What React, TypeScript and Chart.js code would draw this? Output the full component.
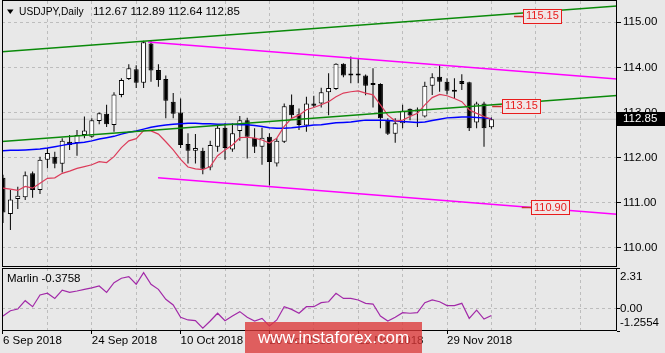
import React, { useEffect, useRef } from "react";
import { Chart, registerables } from "chart.js";

Chart.register(...registerables);

// ---------- data ----------
const symbolTitle = "USDJPY,Daily";
const ohlcTitle = "112.67 112.89 112.64 112.85";
const indicatorName = "Marlin";
const indicatorValue = "-0.3758";

const dateLabels = ["6 Sep 2018", "24 Sep 2018", "10 Oct 2018", "26 Oct 2018", "13 Nov 2018", "29 Nov 2018"];
const dateLabelBars = [0, 12, 24, 36, 48, 60];
const priceTicks = [110, 111, 112, 113, 114, 115];
const marlinTicks = [2.31, 0, -1.2554];

const opens = [
  111.55, 110.75, 111.08, 111.12, 111.65, 111.28, 111.95, 112.02, 111.86, 112.35,
  112.32, 112.5, 112.46, 112.81, 112.97, 112.72, 113.39, 113.74, 113.96, 113.66,
  114.53, 113.94, 113.74, 113.24, 113.0, 112.3, 112.15, 112.15, 111.78, 112.24,
  112.66, 112.18, 112.59, 112.83, 112.44, 112.24, 112.46, 111.87, 112.35, 113.17,
  112.96, 112.71, 113.2, 113.2, 113.45, 113.52, 114.08, 113.85, 113.83, 113.82,
  113.65, 113.63, 112.82, 112.53, 112.76, 113.08, 113.05, 112.91, 113.59, 113.79,
  113.68, 113.5, 113.7, 113.67, 112.78, 113.2, 112.67,
];
const highs = [
  111.62, 111.28, 111.35, 111.69, 111.69, 112.02, 112.21, 112.13, 112.43, 112.5,
  112.61, 112.91, 112.87, 113.0, 113.17, 113.45, 113.76, 114.07, 114.05, 114.59,
  114.59, 114.07, 113.82, 113.43, 113.31, 112.54, 112.52, 112.22, 112.37, 112.74,
  112.76, 112.76, 112.92, 112.88, 112.65, 112.66, 112.54, 112.43, 113.2, 113.4,
  113.09, 113.35, 113.37, 113.55, 113.87, 114.09, 114.09, 114.24, 114.2, 113.84,
  113.98, 113.65, 112.87, 112.87, 113.17, 113.09, 113.11, 113.68, 113.87, 114.05,
  113.76, 113.76, 113.85, 113.68, 113.24, 113.24, 112.89,
];
const lows = [
  110.55, 110.39, 110.86, 111.06, 111.11, 111.19, 111.76, 111.76, 111.67, 112.17,
  112.04, 112.43, 112.44, 112.74, 112.68, 112.57, 113.34, 113.72, 113.54, 113.54,
  113.68, 113.57, 112.87, 112.87, 112.21, 111.87, 111.87, 111.63, 111.72, 112.13,
  111.95, 112.13, 112.37, 111.98, 112.1, 111.84, 111.38, 111.8, 112.32, 112.87,
  112.61, 112.57, 113.11, 113.11, 112.94, 113.5, 113.78, 113.65, 113.65, 113.38,
  113.11, 112.65, 112.5, 112.33, 112.65, 112.83, 112.68, 112.89, 113.39, 113.46,
  113.4, 113.31, 113.5, 112.59, 112.65, 112.24, 112.64,
];
const closes = [
  110.78, 111.07, 111.15, 111.61, 111.28, 111.95, 112.1, 111.86, 112.37, 112.28,
  112.5, 112.6, 112.83, 112.98, 112.74, 113.4, 113.72, 113.98, 113.66, 114.56,
  113.93, 113.72, 113.26, 112.97, 112.28, 112.15, 112.21, 111.75, 112.28, 112.66,
  112.21, 112.54, 112.83, 112.46, 112.24, 112.44, 111.9, 112.37, 113.14, 112.94,
  112.72, 113.2, 113.15, 113.45, 113.54, 114.08, 113.82, 113.82, 113.82, 113.59,
  113.61, 112.87, 112.53, 112.76, 113.04, 112.93, 113.02, 113.59, 113.78, 113.68,
  113.48, 113.46, 113.63, 112.65, 113.2, 112.65, 112.85,
];
const maRed = [
  111.32, 111.3, 111.27, 111.36, 111.32, 111.43, 111.54, 111.55, 111.65, 111.7,
  111.76, 111.8, 111.84, 111.91, 111.89, 112.02, 112.22, 112.37, 112.42, 112.6,
  112.59, 112.52, 112.35, 112.17, 111.96, 111.79, 111.75, 111.73, 111.8, 112.04,
  112.17, 112.28, 112.44, 112.45, 112.43, 112.39, 112.32, 112.43, 112.69, 112.87,
  112.94, 113.06, 113.11, 113.17, 113.24, 113.35, 113.43, 113.46, 113.48, 113.43,
  113.39, 113.17, 112.94, 112.81, 112.83, 112.91, 112.98, 113.17, 113.33, 113.4,
  113.37, 113.31, 113.24, 113.06, 112.98, 112.91, 112.85,
];
const maBlue = [
  112.15, 112.16, 112.16, 112.17, 112.18, 112.19, 112.21, 112.24, 112.27, 112.3,
  112.32, 112.34, 112.37, 112.41, 112.44, 112.47, 112.52, 112.56, 112.59, 112.63,
  112.67, 112.7, 112.72, 112.74, 112.75, 112.76, 112.76, 112.75, 112.75, 112.74,
  112.74, 112.74, 112.73, 112.73, 112.71, 112.69, 112.66, 112.65, 112.65, 112.66,
  112.68, 112.7, 112.72, 112.73, 112.75, 112.77, 112.78, 112.79, 112.81, 112.83,
  112.83, 112.83, 112.82, 112.81, 112.8, 112.79, 112.78, 112.79, 112.82, 112.85,
  112.88, 112.89, 112.9, 112.9, 112.89, 112.88, 112.86,
];
const marlin = [
  -0.41, -0.11, -0.01, 0.46, 0.12, 0.78, 0.88, 0.59, 1.06, 0.93,
  1.01, 1.1, 1.19, 1.29, 0.93, 1.48, 1.73, 1.82, 1.39, 2.05,
  1.39, 1.1, 0.54, 0.22, -0.48, -0.63, -0.67, -1.1, -0.69, -0.25,
  -0.67, -0.41, -0.16, -0.48, -0.69, -0.54, -0.97, -0.63, 0.12, -0.03,
  -0.25, 0.12, 0.12, 0.35, 0.4, 0.88, 0.59, 0.59, 0.5, 0.31,
  0.27, -0.41, -0.69, -0.48, -0.22, -0.25, -0.22, 0.35, 0.5, 0.4,
  0.18, 0.18, 0.31, -0.54, -0.07, -0.58, -0.3758,
];

// trend lines: [bar index, price] end points
const greenUpperBars = [-0.135, 82.97];
const greenUpperPrices = [114.348, 115.362];
const greenLowerBars = [-0.135, 82.97];
const greenLowerPrices = [112.356, 113.376];
const magentaUpperBars = [19.6, 82.97];
const magentaUpperPrices = [114.563, 113.742];
const magentaLowerBars = [20.95, 82.97];
const magentaLowerPrices = [111.553, 110.741];

const priceLabelValues = [115.15, 113.15, 110.9];
const priceLabelBars = [69.05, 66.1, 70.1];
const lastPrice = 112.85;

// ---------- style ----------
const FONT = "'Liberation Sans', Arial, sans-serif";
const BG = "#e8e8e8";
const GRID = "#bdbdbd";
const RED = "#e81c1c";
const X_MIN = -0.135;
const X_MAX = 82.97;
const Y_MIN = 109.572;
const Y_MAX = 115.4725;
const GRID_STEP = 6;

const pts = (xs: number[], ys: number[]) => xs.map((x, i) => ({ x, y: ys[i] }));

const noPad = (s: any) => {
  s.paddingTop = 0;
  s.paddingBottom = 0;
  s.paddingLeft = 0;
  s.paddingRight = 0;
};

export default function App() {
  const mainRef = useRef<HTMLCanvasElement>(null);
  const subRef = useRef<HTMLCanvasElement>(null);

  useEffect(() => {
    const bars = opens.map((_, i) => i);
    const gridTicks = () => {
      const t: { value: number }[] = [];
      for (let v = 0; v <= X_MAX; v += GRID_STEP) t.push({ value: v });
      return t;
    };

    const lineDs = (label: string, data: any[], color: string, width: number, order: number) => ({
      type: "line" as const,
      label,
      data,
      borderColor: color,
      borderWidth: width,
      pointRadius: 0,
      tension: 0,
      fill: false,
      order,
      clip: 0,
    });

    const mainOverlay = {
      id: "mainOverlay",
      afterDraw(chart: any) {
        const { ctx, chartArea: a, scales } = chart;
        const xs = scales.x;
        const ys = scales.y;
        ctx.save();
        // frame
        ctx.strokeStyle = "#000";
        ctx.lineWidth = 1;
        ctx.strokeRect(a.left + 0.5, a.top - 0.5, a.right - a.left - 1, a.bottom - a.top);
        // title
        ctx.fillStyle = "#000";
        ctx.beginPath();
        ctx.moveTo(7, 9.5);
        ctx.lineTo(13.5, 9.5);
        ctx.lineTo(10.25, 14);
        ctx.closePath();
        ctx.fill();
        ctx.font = `11.5px ${FONT}`;
        ctx.textBaseline = "middle";
        ctx.textAlign = "left";
        ctx.save();
        ctx.translate(19, 12);
        ctx.scale(0.89, 1);
        ctx.fillText(symbolTitle, 0, 0);
        ctx.restore();
        ctx.fillText(ohlcTitle, 93, 12);
        // price labels on trend lines
        priceLabelValues.forEach((v, k) => {
          const x0 = xs.getPixelForValue(priceLabelBars[k]);
          const y = ys.getPixelForValue(v);
          const yy = Math.round(y) + 0.5;
          ctx.strokeStyle = "#c83030";
          ctx.lineWidth = 1.5;
          ctx.beginPath();
          ctx.moveTo(x0, yy);
          ctx.lineTo(x0 + 9.5, yy);
          ctx.stroke();
          const txt = v.toFixed(2);
          ctx.font = `11px ${FONT}`;
          const w = Math.round(ctx.measureText(txt).width + 5);
          const bx = Math.round(x0 + 9.5) + 0.5;
          const by = Math.round(y - 7) + 0.5;
          ctx.fillStyle = "#f1e6e6";
          ctx.fillRect(bx, by, w, 14);
          ctx.strokeStyle = RED;
          ctx.lineWidth = 1;
          ctx.strokeRect(bx, by, w, 14);
          ctx.fillStyle = RED;
          ctx.fillText(txt, bx + 2.5, y + 0.5);
        });
        // last price tag
        const py = ys.getPixelForValue(lastPrice);
        ctx.fillStyle = "#000";
        ctx.fillRect(a.right, Math.round(py) - 7, 665 - a.right, 14);
        ctx.fillStyle = "#fff";
        ctx.font = `11.5px ${FONT}`;
        ctx.fillText(lastPrice.toFixed(2), a.right + 6, py);
        ctx.restore();
      },
    };

    const subOverlay = {
      id: "subOverlay",
      afterDraw(chart: any) {
        const { ctx, chartArea: a, scales } = chart;
        const ys = scales.y;
        ctx.save();
        ctx.strokeStyle = "#000";
        ctx.lineWidth = 1;
        ctx.strokeRect(a.left + 0.5, a.top + 0.5, a.right - a.left - 1, a.bottom - a.top - 1);
        ctx.fillStyle = "#000";
        ctx.font = `11.5px ${FONT}`;
        ctx.textBaseline = "middle";
        ctx.textAlign = "left";
        ctx.fillText(`${indicatorName} ${indicatorValue}`, 7, a.top + 11);
        marlinTicks.forEach((v) => {
          let y = ys.getPixelForValue(v);
          y = Math.min(Math.max(y, a.top + 8.7), a.bottom - 7.7);
          const txt = v === 0 ? "0.00" : String(v);
          ctx.fillText(txt, a.right + 3, y);
        });
        ctx.restore();
      },
    };

    const main = new Chart(mainRef.current as HTMLCanvasElement, {
      type: "bar",
      data: {
        datasets: [
          lineDs("price", [{ x: X_MIN, y: lastPrice }, { x: X_MAX, y: lastPrice }], "#c4c4c4", 1, 9),
          {
            type: "bar",
            label: "wicks",
            data: bars.map((i) => ({ x: i, y: [lows[i], highs[i]] })),
            backgroundColor: "#000",
            borderWidth: 0,
            barThickness: 1,
            grouped: false,
            inflateAmount: 0,
            order: 6,
          } as any,
          {
            type: "bar",
            label: "bodies",
            data: bars.map((i) => ({ x: i, y: [opens[i], closes[i]] })),
            backgroundColor: bars.map((i) => (closes[i] > opens[i] ? "#ffffff" : "#000000")),
            borderColor: "#000",
            borderWidth: 1,
            borderSkipped: false,
            barThickness: 5,
            minBarLength: 2,
            grouped: false,
            inflateAmount: 0,
            order: 5,
          } as any,
          lineDs("MA blue", bars.map((i) => ({ x: i, y: maBlue[i] })), "#0000ff", 1.5, 3),
          lineDs("MA red", bars.map((i) => ({ x: i, y: maRed[i] })), "#dc3c5a", 1.2, 2),
          lineDs("green upper", pts(greenUpperBars, greenUpperPrices), "#0a8a0a", 1.4, 1),
          lineDs("green lower", pts(greenLowerBars, greenLowerPrices), "#0a8a0a", 1.4, 1),
          lineDs("magenta upper", pts(magentaUpperBars, magentaUpperPrices), "#ff00ff", 1.4, 1),
          lineDs("magenta lower", pts(magentaLowerBars, magentaLowerPrices), "#ff00ff", 1.4, 1),
        ] as any,
      },
      options: {
        animation: false,
        responsive: false,
        devicePixelRatio: 1,
        events: [],
        layout: { padding: { left: 2, top: 1, right: 0, bottom: 0 } },
        plugins: { legend: { display: false }, tooltip: { enabled: false } },
        scales: {
          x: {
            type: "linear",
            min: X_MIN,
            max: X_MAX,
            bounds: "data",
            offset: false,
            grid: { offset: false, color: GRID, drawTicks: false },
            border: { display: false, dash: [3, 3] },
            ticks: { display: false, autoSkip: false, padding: 0 },
            afterBuildTicks: (s: any) => {
              s.ticks = gridTicks();
            },
            afterFit: (s: any) => {
              s.height = 0;
              noPad(s);
            },
          },
          y: {
            type: "linear",
            position: "right",
            min: Y_MIN,
            max: Y_MAX,
            bounds: "data",
            grid: { color: GRID, drawTicks: true, tickLength: 4, tickColor: "#000" },
            border: { display: false, dash: [3, 3] },
            ticks: {
              color: "#000",
              font: { family: FONT, size: 11.5 },
              padding: 2,
              callback: (v: any) => Number(v).toFixed(2),
            },
            afterBuildTicks: (s: any) => {
              s.ticks = priceTicks.map((v) => ({ value: v }));
            },
            afterFit: (s: any) => {
              s.width = 48;
              noPad(s);
            },
          },
        },
      } as any,
      plugins: [mainOverlay],
    });

    const sub = new Chart(subRef.current as HTMLCanvasElement, {
      type: "line",
      data: {
        datasets: [
          {
            label: "Marlin",
            data: bars.map((i) => ({ x: i, y: marlin[i] })),
            borderColor: "#a22aa8",
            borderWidth: 1.2,
            pointRadius: 0,
            tension: 0,
            fill: false,
          },
        ],
      },
      options: {
        animation: false,
        responsive: false,
        devicePixelRatio: 1,
        events: [],
        layout: { padding: { left: 2, top: 1, right: 0, bottom: 0 } },
        plugins: { legend: { display: false }, tooltip: { enabled: false } },
        scales: {
          x: {
            type: "linear",
            min: X_MIN,
            max: X_MAX,
            bounds: "data",
            offset: false,
            grid: {
              offset: false,
              color: GRID,
              drawTicks: true,
              tickLength: 3,
              tickColor: (c: any) =>
                c.tick && dateLabelBars.includes(c.tick.value) ? "#000" : "rgba(0,0,0,0)",
            },
            border: { display: false, dash: [3, 3] },
            ticks: {
              autoSkip: false,
              maxRotation: 0,
              minRotation: 0,
              align: "start",
              padding: 0,
              color: "#000",
              font: { family: FONT, size: 11.5 },
              callback: (v: any) => {
                const k = dateLabelBars.indexOf(Number(v));
                return k >= 0 ? dateLabels[k] : "";
              },
            },
            afterBuildTicks: (s: any) => {
              s.ticks = gridTicks();
            },
            afterFit: (s: any) => {
              s.height = 22;
              noPad(s);
            },
          },
          y: {
            type: "linear",
            position: "right",
            min: -1.2554,
            max: 2.31,
            bounds: "data",
            grid: {
              color: (c: any) => (c.tick && c.tick.value === 0 ? GRID : "rgba(0,0,0,0)"),
              drawTicks: true,
              tickLength: 3,
              tickColor: "#000",
            },
            border: { display: false, dash: [3, 3] },
            ticks: { display: false },
            afterBuildTicks: (s: any) => {
              s.ticks = marlinTicks.map((v) => ({ value: v }));
            },
            afterFit: (s: any) => {
              s.width = 48;
              noPad(s);
            },
          },
        },
      } as any,
      plugins: [subOverlay],
    });

    return () => {
      main.destroy();
      sub.destroy();
    };
  }, []);

  return (
    <div
      style={{
        position: "fixed",
        left: 0,
        top: 0,
        width: 665,
        height: 353,
        background: BG,
        overflow: "hidden",
      }}
    >
      <canvas ref={mainRef} width={665} height={267} style={{ position: "absolute", left: 0, top: 0 }} />
      <canvas ref={subRef} width={665} height={86} style={{ position: "absolute", left: 0, top: 267 }} />
      <div
        style={{
          position: "absolute",
          left: 245,
          top: 322,
          width: 177,
          height: 31,
          background: "rgba(220,55,55,0.78)",
          color: "#fff",
          fontFamily: FONT,
          fontSize: 17,
          display: "flex",
          alignItems: "center",
          justifyContent: "center",
          whiteSpace: "nowrap",
        }}
      >
        www.instaforex.com
      </div>
    </div>
  );
}
